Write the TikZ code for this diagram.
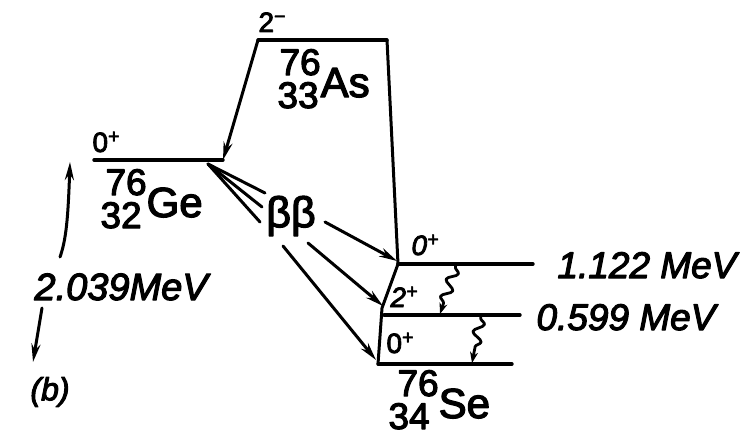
\documentclass[tikz,border=0pt]{standalone}
\usepackage{fontspec}
\setmainfont{Liberation Sans}[FakeBold=3]
\usetikzlibrary{arrows.meta,decorations.pathmorphing}
% nuclide: offset of mass number, mass number, charge number, element
\newcommand{\nuclab}[4]{\vbox{\baselineskip=33pt\lineskiplimit=-50pt\hbox{\hspace*{#1}#2}\hbox{#3}}\raisebox{11pt}{\fontsize{42}{42}\selectfont #4}}
\begin{document}
\begin{tikzpicture}[x=1pt,y=-1pt,line width=3pt,line cap=round,line join=round,
  lvl/.style={line width=3.4pt},
  tip/.style={-{Stealth[length=18pt,width=9pt]}},
  gam/.style={decorate,decoration={snake,amplitude=5pt,segment length=18pt,pre length=2pt,post length=10pt},-{Stealth[length=11pt,width=8pt]},line width=2.8pt},
  nuc/.style={inner sep=0pt,anchor=base west,font=\fontsize{37}{33}\selectfont},
  spin/.style={inner sep=0pt,anchor=base west,font=\fontsize{28}{28}\selectfont},
  spinit/.style={spin,font=\fontsize{28}{28}\selectfont\itshape},
  energy/.style={inner sep=0pt,anchor=base west,font=\fontsize{37}{37}\selectfont\itshape}]
\useasboundingbox (0,0) rectangle (743,436);
% level coordinates
\coordinate (asL) at (258,40);
\coordinate (asR) at (387,40);
\coordinate (geL) at (94,160);
\coordinate (geR) at (223,160);
\coordinate (gef) at (208,164);
\coordinate (se1L) at (398,264);
\coordinate (se1R) at (533,264);
\coordinate (se2L) at (384,315);
\coordinate (se2R) at (520,315);
\coordinate (se0L) at (378,364);
\coordinate (se0R) at (512,364);
% levels
\draw[lvl] (asL) -- (asR);
\draw[lvl] (geL) -- (geR);
\draw[lvl] (se1L) -- (se1R);
\draw[lvl] (se2L) -- (se2R);
\draw[lvl] (se0L) -- (se0R);
% As decays
\draw[tip] (asL) -- (geR);
\draw (asR) -- (se1L);
\draw (se1L) -- (382,308) -- (se0L);
% bb label and fan
\node[inner sep=0pt,font=\fontsize{43}{43}\selectfont] (bb) at (291,216) {ββ};
\coordinate (f1) at (265,193);
\coordinate (f2) at (262,207);
\coordinate (f3) at (260,222);
\draw (gef) -- (f1);
\draw (gef) -- (f2);
\draw (gef) -- (f3);
\coordinate (b1) at (325,222);
\coordinate (b2) at (308,243);
\coordinate (b3) at (283,246);
\draw[tip] (b1) -- (397,261);
\draw[tip] (b2) -- (383,306);
\draw[tip] (b3) -- (376,360);
% gamma transitions
\draw[gam] (456,265) -- (440,314);
\draw[gam] (481,316) -- (472,363);
% nuclide labels
\node[spin] (sAs) at (257,32) {2\textsuperscript{−}};
\node[nuc] (As) at (276,108) {\nuclab{2pt}{76}{33}{As}};
\node[spin] (sGe) at (91,152) {0\textsuperscript{+}};
\node[nuc] (Ge) at (99,228) {\nuclab{5pt}{76}{32}{Ge}};
\node[spinit] (s1) at (410,255) {0\textsuperscript{+}};
\node[spinit] (s2) at (389,307) {2\textsuperscript{+}};
\node[spin] (s0) at (385,353) {0\textsuperscript{+}};
\node[nuc] (Se) at (387,429) {\nuclab{9pt}{76}{34}{Se}};
% energies
\node[energy] (e1) at (556,278) {1.122 MeV};
\node[energy] (e2) at (535,330) {0.599 MeV};
\node[energy,font=\fontsize{38}{38}\selectfont\itshape] (eq) at (33,300) {2.039MeV};
\node[inner sep=0pt,font=\fontsize{32}{32}\selectfont\itshape] (lab) at (50,392) {(b)};
% Q-value arrows
\coordinate (qt) at (70,162);
\coordinate (qb) at (33,362);
\draw[tip] (60,257) .. controls (66,240) and (68,220) .. (qt);
\draw[tip] (42,308) -- (qb);
\end{tikzpicture}
\end{document}
